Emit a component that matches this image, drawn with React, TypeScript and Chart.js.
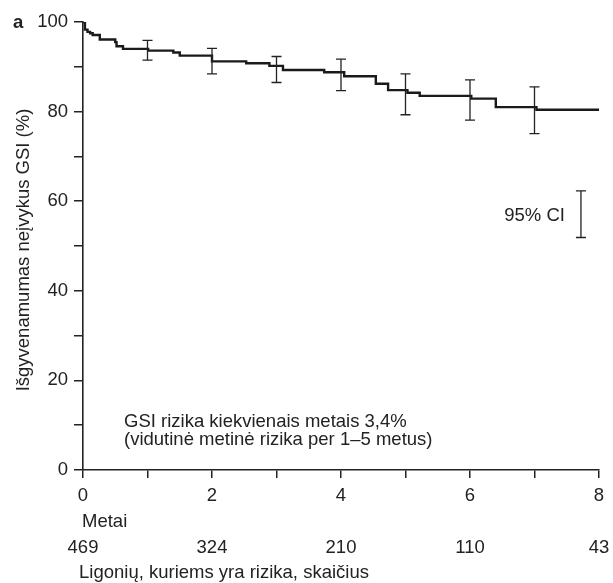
import React, { useEffect, useRef } from "react";
import { Chart, registerables } from "chart.js";

Chart.register(...registerables);

// Kaplan–Meier curve (years, % survival free of event)
const kmTimes = [0, 0.03, 0.07, 0.11, 0.15, 0.26, 0.5, 0.52, 0.62, 1.01, 1.4, 1.5, 2.0, 2.53, 2.89, 3.1, 3.74, 4.05, 4.54, 4.73, 5.03, 5.22, 6.02, 6.4, 7.03, 8];
const kmSurv = [100, 98.3, 97.8, 97.5, 97.1, 96.1, 95.5, 94.6, 94.0, 93.6, 93.2, 92.5, 91.2, 90.8, 90.2, 89.3, 88.8, 87.9, 86.2, 84.8, 84.2, 83.5, 82.9, 81.0, 80.4, 80.4];

// 95% CI error bars
const ciTimes = [1, 2, 3, 4, 5, 6, 7];
const ciLow = [91.5, 88.4, 86.5, 84.7, 79.3, 78.1, 75.1];
const ciHigh = [95.9, 94.1, 92.3, 91.7, 88.4, 87.1, 85.5];

// legend CI sample bar
const legendCiX = 7.72;
const legendCiLow = 51.9;
const legendCiHigh = 62.3;
const legendLabel = "95% CI";

// numbers at risk
const riskYears = [0, 2, 4, 6, 8];
const riskCounts = [469, 324, 210, 110, 43];

const yTitle = "Išgyvenamumas neįvykus GSI (%)";
const xTitle = "Metai";
const riskTitle = "Ligonių, kuriems yra rizika, skaičius";
const noteLines = ["GSI rizika kiekvienais metais 3,4%", "(vidutinė metinė rizika per 1–5 metus)"];
const panelLetter = "a";

const FONT = "'Liberation Sans', Arial, Helvetica, sans-serif";
const FS = 18.5;
const INK = "#222";

const overlay = {
  id: "overlay",
  afterDatasetsDraw(chart: any) {
    const { ctx, chartArea, scales } = chart;
    const xs = scales.x;
    const ys = scales.y;
    ctx.save();
    // error bars
    const drawBar = (t: number, lo: number, hi: number) => {
      const px = xs.getPixelForValue(t);
      const pLo = ys.getPixelForValue(lo);
      const pHi = ys.getPixelForValue(hi);
      ctx.strokeStyle = INK;
      ctx.lineWidth = 1.3;
      ctx.beginPath();
      ctx.moveTo(px, pLo);
      ctx.lineTo(px, pHi);
      ctx.moveTo(px - 5, pLo);
      ctx.lineTo(px + 5, pLo);
      ctx.moveTo(px - 5, pHi);
      ctx.lineTo(px + 5, pHi);
      ctx.stroke();
    };
    ciTimes.forEach((t, i) => drawBar(t, ciLow[i], ciHigh[i]));
    drawBar(legendCiX, legendCiLow, legendCiHigh);

    ctx.fillStyle = INK;
    ctx.font = `${FS}px ${FONT}`;
    ctx.textBaseline = "alphabetic";
    // legend label
    ctx.textAlign = "right";
    ctx.fillText(legendLabel, xs.getPixelForValue(legendCiX) - 16, ys.getPixelForValue((legendCiLow + legendCiHigh) / 2) + 7);

    // note
    ctx.textAlign = "left";
    ctx.fillText(noteLines[0], chartArea.left + 41, chartArea.bottom - 43);
    ctx.fillText(noteLines[1], chartArea.left + 41, chartArea.bottom - 25);

    // x title
    ctx.fillText(xTitle, chartArea.left - 1, chartArea.bottom + 57);
    // risk numbers
    ctx.textAlign = "center";
    riskYears.forEach((t, i) => {
      ctx.fillText(String(riskCounts[i]), xs.getPixelForValue(t), chartArea.bottom + 83);
    });
    ctx.textAlign = "left";
    ctx.fillText(riskTitle, chartArea.left - 4, chartArea.bottom + 108);

    // y title
    ctx.save();
    ctx.translate(29, (chartArea.top + chartArea.bottom) / 2 + 4);
    ctx.rotate(-Math.PI / 2);
    ctx.textAlign = "center";
    ctx.fillText(yTitle, 0, 0);
    ctx.restore();

    // panel letter
    ctx.font = `bold ${FS}px ${FONT}`;
    ctx.textAlign = "left";
    ctx.fillText(panelLetter, 13, 28);
    ctx.restore();
  },
};

export default function App() {
  const ref = useRef<HTMLCanvasElement>(null);
  useEffect(() => {
    if (!ref.current) return;
    const chart = new Chart(ref.current, {
      type: "line",
      data: {
        datasets: [
          {
            data: kmTimes.map((t, i) => ({ x: t, y: kmSurv[i] })),
            stepped: true,
            borderColor: "#1a1a1a",
            borderWidth: 2.4,
            pointRadius: 0,
            fill: false,
          },
        ],
      },
      options: {
        responsive: false,
        animation: false,
        plugins: { legend: { display: false }, tooltip: { enabled: false } },
        layout: { padding: { left: 0, right: 14, top: 22, bottom: 0 } },
        scales: {
          x: {
            type: "linear",
            min: 0,
            max: 8,
            afterFit(scale: any) {
              scale.height = 113;
            },
            ticks: {
              stepSize: 1,
              color: INK,
              font: { family: FONT, size: FS },
              padding: 7,
              maxRotation: 0,
              callback: (v: any) => (Number(v) % 2 === 0 ? String(v) : ""),
            },
            grid: { drawOnChartArea: false, drawTicks: true, tickLength: 8, color: INK, lineWidth: 1.5 },
            border: { display: true, color: INK, width: 1.6 },
          },
          y: {
            type: "linear",
            min: 0,
            max: 100,
            afterFit(scale: any) {
              scale.width = 83;
            },
            ticks: {
              stepSize: 10,
              color: INK,
              font: { family: FONT, size: FS },
              padding: 6,
              callback: (v: any) => (Number(v) % 20 === 0 ? String(v) : ""),
            },
            grid: { drawOnChartArea: false, drawTicks: true, tickLength: 9, color: INK, lineWidth: 1.5 },
            border: { display: true, color: INK, width: 1.6 },
          },
        },
      },
      plugins: [overlay],
    });
    return () => chart.destroy();
  }, []);
  return (
    <div style={{ position: "fixed", left: 0, top: 0, width: 613, height: 583, background: "#fff" }}>
      <canvas ref={ref} width={613} height={583} />
    </div>
  );
}
